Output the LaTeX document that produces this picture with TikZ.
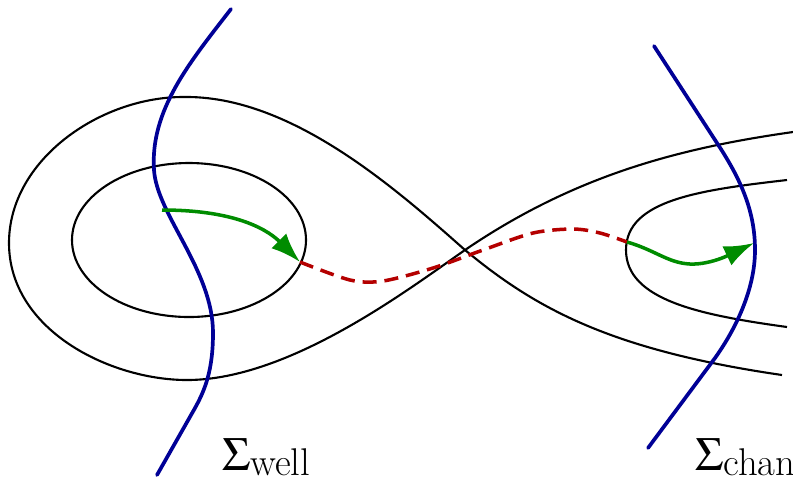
\documentclass[tikz,border=0pt]{standalone}
\usepackage{mathptmx}
\usepackage{tikz}
\usetikzlibrary{arrows.meta}
\definecolor{secblue}{RGB}{0,0,150}
\definecolor{trajgreen}{RGB}{0,140,0}
\definecolor{tubered}{RGB}{180,0,0}

\begin{document}
\begin{tikzpicture}[x=0.02cm, y=-0.02cm,
  level curve/.style={black, line width=1.2pt},
  section/.style={secblue, line width=2.1pt, line cap=round},
  orbit/.style={trajgreen, line width=2pt, -{Latex[length=17pt,width=12pt]}},
  tube/.style={tubered, line width=2pt, dash pattern=on 8pt off 4.5pt},
  seclabel/.style={anchor=base west, inner sep=0pt, font=\fontsize{27pt}{30pt}\selectfont}]
\useasboundingbox (0,0) rectangle (793,485);
\draw[level curve] (189,240) ellipse [x radius=117, y radius=77];
\draw[level curve] (793,132) .. controls (680,148) and (575,175) .. (465,250)
  .. controls (410,288) and (290,380) .. (187,380)
  .. controls (110,380) and (9,330) .. (9,243)
  .. controls (9,160) and (100,97) .. (183,97)
  .. controls (290,95) and (395,188) .. (465,250)
  .. controls (535,308) and (610,350) .. (782,375);
\draw[level curve] (787,180) .. controls (700,190) and (626,200) .. (626,250)
  .. controls (626,300) and (700,315) .. (787,327);
\draw[section] (231,9) .. controls (190,62) and (150,110) .. (154,170)
  .. controls (157,215) and (213,270) .. (213,333)
  .. controls (213,370) and (205,390) .. (195,408) -- (157,475);
\draw[section] (654,46) -- (717,143) .. controls (740,178) and (755,210) .. (755,250)
  .. controls (755,290) and (735,330) .. (715,358) -- (648,448);
\coordinate (wellstart) at (162,210);
\coordinate (wellexit) at (300,262);
\coordinate (chanentry) at (627,242);
\coordinate (chanhit) at (754,243);
\draw[tube] plot[smooth] coordinates {(wellexit) (350,280) (383,281) (433,268) (483,250) (533,233)
  (573,229) (600,233) (chanentry)};
\draw[orbit] (wellstart) .. controls (240,210) and (270,232) .. (wellexit);
\draw[orbit] (chanentry) .. controls (655,250) and (668,263) .. (690,264) .. controls (712,265) and (735,252) .. (chanhit);
\node[seclabel] (well) at (222,470) {$\Sigma$\raisebox{-3pt}{\fontsize{22pt}{24pt}\selectfont well}};
\node[seclabel] (chan) at (695,470) {$\Sigma$\raisebox{-3pt}{\fontsize{22pt}{24pt}\selectfont chan}};
\end{tikzpicture}
\end{document}
